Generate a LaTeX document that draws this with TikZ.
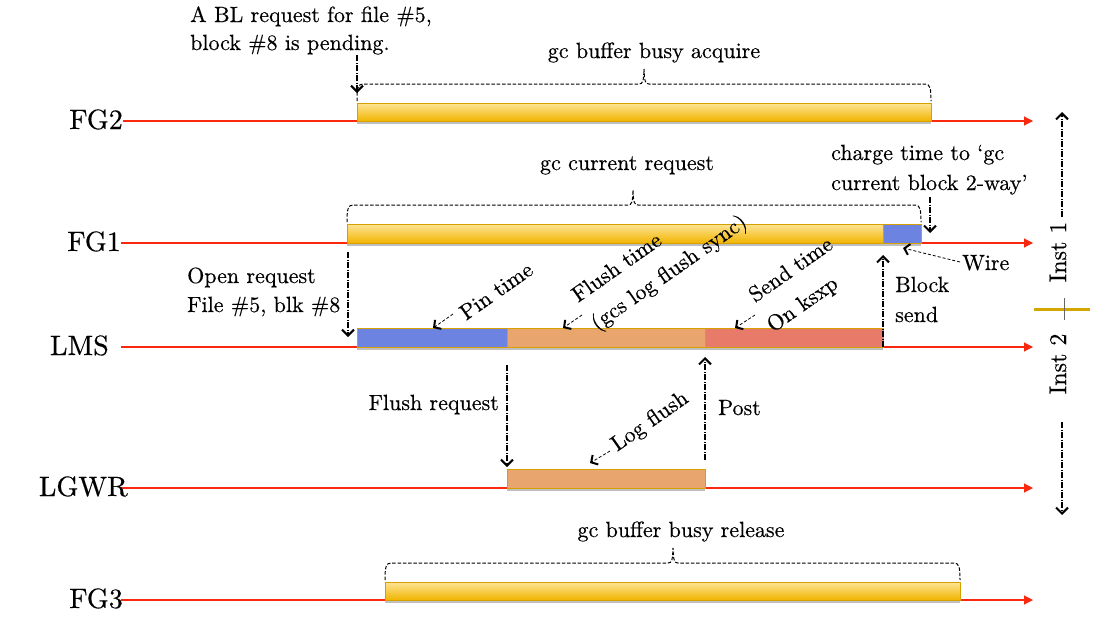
\documentclass[tikz,border=0pt]{standalone}
\usepackage{fontspec}
\setmainfont{lmroman10-regular.otf}[FakeBold=0.4]
\usetikzlibrary{arrows.meta,shadows}
\definecolor{tlred}{RGB}{250,40,15}
\definecolor{baryel}{RGB}{241,181,0}
\definecolor{baryellight}{RGB}{254,228,150}
\definecolor{barborder}{RGB}{214,160,0}
\definecolor{pinblue}{RGB}{108,131,226}
\definecolor{flushtan}{RGB}{232,166,110}
\definecolor{sendsalmon}{RGB}{232,122,106}
\definecolor{instgold}{RGB}{212,166,0}
\newcommand{\drawbracket}[5]{% x1 x2 ybase ylevel xspike
  \draw[bracket] (#1,#3) .. controls (#1,#4+4) and (#1+1,#4) .. (#1+6,#4)
    -- (#5-5,#4) .. controls (#5-1,#4) and (#5-0.5,#4-3) .. (#5,#4-15)
    .. controls (#5+0.5,#4-3) and (#5+1,#4) .. (#5+5,#4)
    -- (#2-6,#4) .. controls (#2-1,#4) and (#2,#4+4) .. (#2,#3);}
\tikzset{
  timeline/.style={draw=tlred, line width=1.1pt, -{Triangle[length=9pt,width=9pt]}},
  lbl/.style={font=\fontsize{28}{32}\selectfont, inner sep=0pt, anchor=base east},
  txt/.style={font=\fontsize{22}{26}\selectfont, inner sep=0pt, anchor=base west},
  insttxt/.style={font=\fontsize{24}{28}\selectfont, inner sep=0pt, rotate=90},
  barshadow/.style={drop shadow={shadow xshift=0pt, shadow yshift=-2.5pt, opacity=0.25, fill=black}},
  yellowbar/.style={draw=barborder, line width=0.9pt, top color=baryellight, bottom color=baryel, barshadow},
  flatbar/.style={draw=barborder, line width=0.9pt, barshadow},
  bigarrow/.style={line width=1.5pt, dash pattern=on 6pt off 1.5pt on 1pt off 1.5pt,
    -{Straight Barb[length=6pt,width=12pt,line width=2pt]}},
  smallarrow/.style={line width=0.8pt, dash pattern=on 3pt off 2pt,
    -{Straight Barb[length=5pt,width=11pt,line width=2pt]}},
  bracket/.style={line width=1pt, dash pattern=on 3.5pt off 1.8pt, black},
}
\begin{document}
\begin{tikzpicture}[x=1pt,y=-1pt]
\useasboundingbox[fill=white] (0,0) rectangle (1094,633);

% ---------- timelines ----------
\coordinate (fg2s) at (123,121);  \coordinate (fg2e) at (1033,121);
\coordinate (fg1s) at (121,243);  \coordinate (fg1e) at (1033,243);
\coordinate (lmss) at (121,347);  \coordinate (lmse) at (1033,347);
\coordinate (lgws) at (121,488);  \coordinate (lgwe) at (1033,488);
\coordinate (fg3s) at (121,600);  \coordinate (fg3e) at (1033,600);
\draw[timeline] (fg2s) -- (fg2e);
\draw[timeline] (fg1s) -- (fg1e);
\draw[timeline] (lmss) -- (lmse);
\draw[timeline] (lgws) -- (lgwe);
\draw[timeline] (fg3s) -- (fg3e);

\node[lbl] (lfg2) at (123,129) {FG2};
\node[lbl] (lfg1) at (121,251) {FG1};
\node[lbl] (llms) at (109,355) {LMS};
\node[lbl] (llgw) at (128,496) {LGWR};
\node[lbl] (lfg3) at (123,608) {FG3};

% ---------- bars ----------
\path[yellowbar] (357,103) rectangle (931,121);
\path[yellowbar] (347,224) rectangle (883,243);
\path[flatbar, fill=pinblue] (883,224) rectangle (921,243);
\path[flatbar, fill=pinblue] (357,328) rectangle (507,347);
\path[flatbar, fill=flushtan] (507,328) rectangle (705,347);
\path[flatbar, fill=sendsalmon] (705,328) rectangle (883,347);
\path[flatbar, fill=flushtan] (507,469) rectangle (705,488);
\path[yellowbar] (385,582) rectangle (960,600);

% ---------- brackets ----------
\drawbracket{357}{931}{101}{84}{644}
\drawbracket{347}{921}{222}{205}{633}
\drawbracket{385}{960}{580}{563}{673}

\node[txt, anchor=base] (acq) at (654,58) {gc buffer busy acquire};
\node[txt, anchor=base] (cur) at (627,170) {gc current request};
\node[txt, anchor=base] (rel) at (681,537) {gc buffer busy release};

% ---------- annotations ----------
\node[txt] (bl1) at (190,22) {A BL request for file \#5,};
\node[txt] (bl2) at (190,50) {block \#8 is pending.};
\coordinate (blA) at (357,55); \coordinate (blB) at (357,93);
\draw[bigarrow] (blA) -- (blB);

\node[txt] (ch1) at (831,160) {charge time to ‘gc};
\node[txt] (ch2) at (831,190) {current block 2-way’};
\coordinate (chA) at (930,197); \coordinate (chB) at (930,233);
\draw[bigarrow] (chA) -- (chB);

\node[txt] (wire) at (962,270) {Wire};
\coordinate (wA) at (960,262); \coordinate (wB) at (903,248);
\draw[smallarrow] (wA) -- (wB);

\node[txt] (op1) at (187,283) {Open request};
\node[txt] (op2) at (187,312) {File \#5, blk \#8};
\coordinate (opA) at (348,252); \coordinate (opB) at (348,337);
\draw[bigarrow] (opA) -- (opB);

\node[txt] (bs1) at (895,292) {Block};
\node[txt] (bs2) at (895,322) {send};
\coordinate (bsA) at (883,347); \coordinate (bsB) at (883,255);
\draw[bigarrow] (bsA) -- (bsB);

\node[txt, anchor=base east] (frq) at (499,410) {Flush request};
\coordinate (frA) at (507,365); \coordinate (frB) at (507,467);
\draw[bigarrow] (frA) -- (frB);

\node[txt] (post) at (718,415) {Post};
\coordinate (poA) at (705,460); \coordinate (poB) at (705,357);
\draw[bigarrow] (poA) -- (poB);

% rotated labels
\node[txt, rotate=35] (pin) at (466,321) {Pin time};
\coordinate (piA) at (453,314); \coordinate (piB) at (433,328);
\draw[smallarrow] (piA) -- (piB);

\node[txt, rotate=35] (fl1) at (578,303) {Flush time};
\node[txt, rotate=35] (fl2) at (597,331) {(gcs log flush sync)};
\coordinate (flA) at (582,315); \coordinate (flB) at (563,328);
\draw[smallarrow] (flA) -- (flB);

\node[txt, rotate=35] (sd1) at (755,303) {Send time};
\node[txt, rotate=35] (sd2) at (773,333) {On ksxp};
\coordinate (sdA) at (755,315); \coordinate (sdB) at (735,328);
\draw[smallarrow] (sdA) -- (sdB);

\node[txt, rotate=35] (lgf) at (617,452) {Log flush};
\coordinate (lfA) at (610,451); \coordinate (lfB) at (590,463);
\draw[smallarrow] (lfA) -- (lfB);

% ---------- instance markers ----------
\node[insttxt] (inst1) at (1058,252) {Inst 1};
\node[insttxt] (inst2) at (1058,364) {Inst 2};
\coordinate (i1A) at (1062,217); \coordinate (i1B) at (1062,112);
\draw[bigarrow, line width=1.3pt] (i1A) -- (i1B);
\coordinate (i2A) at (1062,422); \coordinate (i2B) at (1062,515);
\draw[bigarrow, line width=1.3pt] (i2A) -- (i2B);
\coordinate (gA) at (1034,309); \coordinate (gB) at (1090,309);
\draw[instgold, line width=3pt] (gA) -- (gB);
\coordinate (tA) at (1064,298); \coordinate (tB) at (1064,320);
\draw[black!60, line width=0.6pt] (tA) -- (tB);
\end{tikzpicture}
\end{document}
